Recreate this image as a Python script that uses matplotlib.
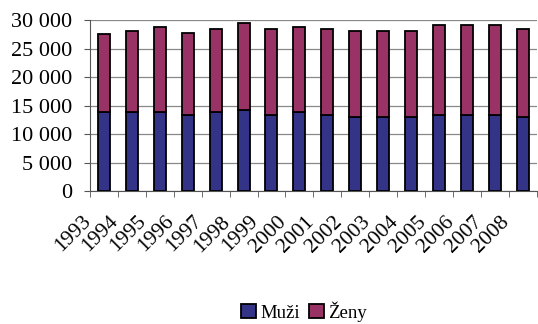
import matplotlib.pyplot as plt
import matplotlib.transforms as mtransforms
import numpy as np

years = [str(y) for y in range(1993, 2009)]
muzi = [13800, 13800, 13800, 13300, 13800, 14200, 13300, 13800,
        13300, 13000, 13000, 13000, 13300, 13300, 13300, 13000]
celkem = [27500, 28100, 28800, 27800, 28500, 29500, 28500, 28800,
          28500, 28100, 28100, 28100, 29100, 29100, 29100, 28400]
zeny = [c - m for c, m in zip(celkem, muzi)]

plt.rcParams['font.family'] = ['Liberation Serif', 'DejaVu Serif']

fig = plt.figure(figsize=(5.38, 3.24), dpi=100)
ax = fig.add_axes([0.167, 0.41, 0.831, 0.528])

x = np.arange(len(years))
ax.bar(x, muzi, width=0.43, color='#333388', edgecolor='black', linewidth=1.3,
       label='Muži', zorder=3)
ax.bar(x, zeny, width=0.43, bottom=muzi, color='#993366', edgecolor='black',
       linewidth=1.3, label='Ženy', zorder=3)

ax.set_xlim(-0.5, len(years) - 0.5)
ax.set_ylim(0, 30000)
ax.set_yticks(range(0, 30001, 5000))
ax.set_yticklabels(['0', '5 000', '10 000', '15 000', '20 000', '25 000', '30 000'],
                   fontsize=16)
ax.yaxis.grid(True, color='#888888', linewidth=0.9, zorder=0)

ax.set_xticks(x)
ax.set_xticklabels(years, rotation=45, ha='right', va='center',
                   rotation_mode='anchor', fontsize=15.5)
ax.set_xticks(np.arange(-0.5, len(years)), minor=True)
ax.tick_params(axis='x', which='major', length=0, pad=20)
ax.tick_params(axis='x', which='minor', length=4, color='#555555')
ax.tick_params(axis='y', length=4, color='#555555', pad=9)
# labels sit left of their bars, as in the original
shift = mtransforms.ScaledTranslation(-16 / 100, 0, fig.dpi_scale_trans)
for lab in ax.get_xticklabels():
    lab.set_transform(lab.get_transform() + shift)

for s in ['top', 'right']:
    ax.spines[s].set_visible(False)
ax.spines['left'].set_color('#555555')
ax.spines['bottom'].set_color('#555555')

fig.legend(loc='lower center', bbox_to_anchor=(0.565, -0.045), ncol=2, frameon=False,
           fontsize=13.5, handlelength=0.8, handleheight=0.8, handletextpad=0.2,
           columnspacing=0.5)

fig.savefig('out.png', dpi=100)
